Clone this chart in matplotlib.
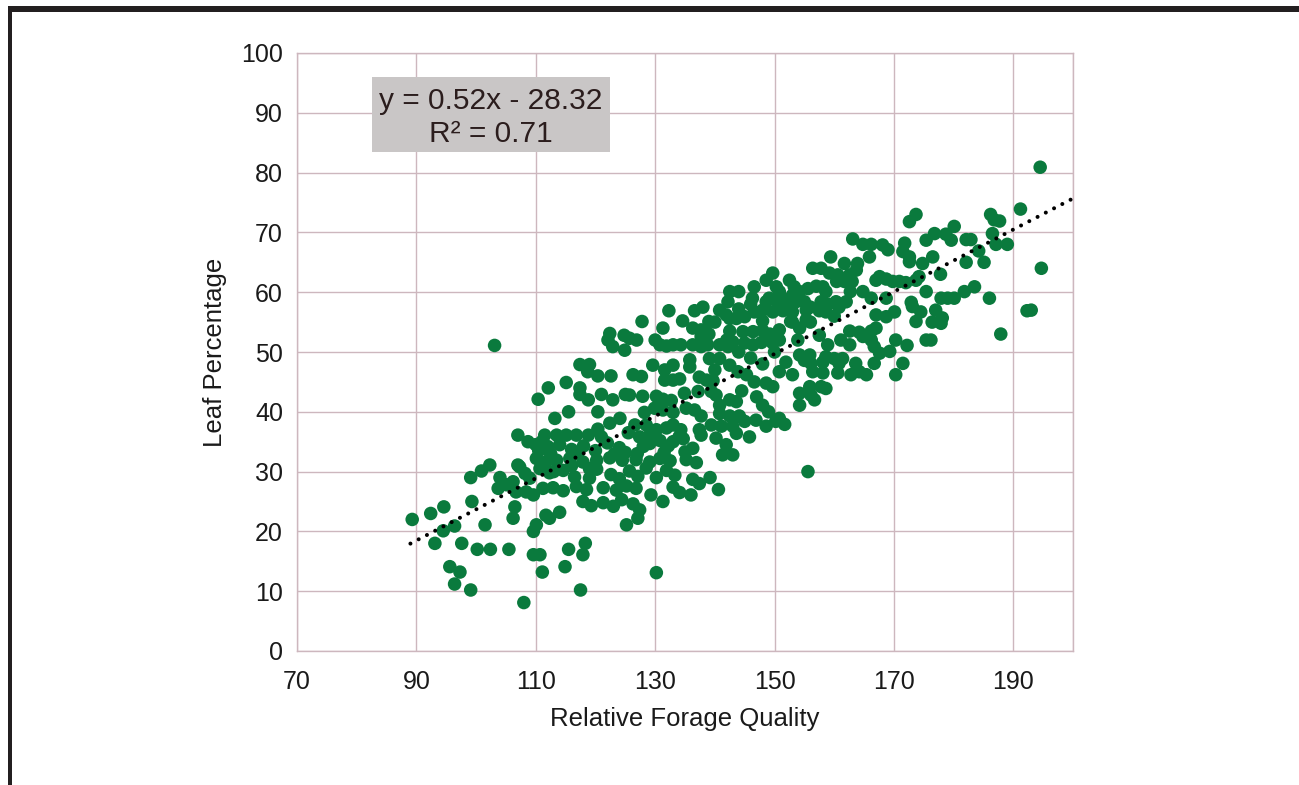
import matplotlib
matplotlib.use("Agg")
import matplotlib.pyplot as plt
from matplotlib.patches import Rectangle
import numpy as np

plt.rcParams['font.family'] = ['Liberation Sans', 'DejaVu Sans']

# (relative forage quality, leaf percentage)
leaf_points = [
    # sparse left side
    (89.3, 22.0), (92.4, 23.0), (94.6, 24.1), (94.5, 20.1), (96.4, 20.9), (93.1, 18.0),
    (97.6, 18.0), (95.6, 14.1), (97.3, 13.2), (96.4, 11.2), (99.1, 10.2), (100.2, 17.0),
    (102.4, 17.0), (105.5, 17.0), (101.5, 21.1), (99.3, 25.0), (106.2, 22.2), (106.5, 24.1),
    (99.1, 29.0), (100.9, 30.1), (102.3, 31.1), (104.0, 29.0), (107.0, 31.1), (110.1, 21.1),
    (109.6, 20.0), (109.6, 16.1), (110.7, 16.1), (111.1, 13.2), (108.0, 8.1), (111.7, 22.7),
    (103.7, 27.2), (105.1, 27.8), (106.2, 28.3), (107.3, 30.8), (108.2, 29.7), (109.0, 28.9),
    (110.1, 32.2), (110.7, 30.5), (111.8, 31.7), (106.7, 26.6), (108.4, 26.6), (109.6, 26.1),
    (111.2, 27.2), (103.1, 51.1),
    # lower middle
    (115.5, 17.0), (118.3, 18.0), (117.9, 16.1), (114.9, 14.1), (117.5, 10.2), (130.2, 13.1),
    (125.2, 21.1), (127.1, 22.2), (129.3, 26.1), (131.3, 25.0), (136.0, 26.1), (114.0, 23.2),
    (112.3, 22.2),
    (113.5, 31.9), (115.7, 32.2), (117.9, 31.6), (120.2, 31.9), (122.4, 32.3), (124.5, 31.9),
    (126.8, 32.0), (129.1, 31.6), (130.8, 32.2), (132.5, 31.8), (135.2, 32.0), (136.9, 31.5),
    (112.3, 29.8), (114.6, 30.2), (116.5, 29.1), (119.0, 28.9), (120.2, 30.4), (122.6, 29.5),
    (124.0, 28.8), (125.7, 30.1), (127.1, 29.2), (128.5, 30.6), (130.2, 29.0), (131.9, 30.2),
    (133.3, 29.4), (136.3, 28.7),
    (112.9, 27.3), (114.6, 26.8), (116.8, 27.5), (118.5, 27.0), (121.3, 27.3), (123.5, 26.9),
    (125.2, 27.6), (126.8, 27.2), (133.0, 27.4), (134.1, 26.5),
    (117.9, 25.0), (119.3, 24.3), (121.3, 24.8), (123.0, 24.2), (124.4, 25.3), (126.3, 24.6),
    (127.4, 23.6),
    (155.6, 30.0), (139.2, 29.0), (140.6, 27.0), (137.4, 28.0), (141.3, 32.8), (143.0, 32.8),
    # 105-125 core
    (117.4, 47.9), (119.0, 47.9), (118.7, 46.7), (120.4, 46.0), (122.6, 46.0), (112.1, 44.0),
    (115.1, 44.9), (117.4, 44.0), (117.4, 42.9), (118.8, 42.0), (121.0, 42.9), (122.9, 42.0),
    (125.0, 42.9), (110.4, 42.1), (115.5, 40.0), (113.2, 38.9), (120.4, 40.0), (107.0, 36.1),
    (108.7, 35.0), (111.5, 36.1), (113.5, 36.1), (115.1, 36.1), (116.8, 36.1), (118.8, 36.1),
    (120.4, 37.1), (122.4, 38.1), (124.1, 38.9),
    (110.5, 33.5), (114.0, 34.5), (116.0, 33.7), (118.0, 34.3), (120.0, 33.5), (122.0, 34.8),
    (124.0, 34.0), (125.5, 36.5),
    (110.0, 34.5), (111.0, 35.0), (112.5, 33.0), (113.0, 30.0), (116.0, 31.0), (117.0, 33.0),
    (119.0, 30.5), (121.0, 35.8), (123.2, 33.0), (125.0, 33.2), (127.0, 33.0), (128.0, 34.2),
    (129.0, 36.0), (131.5, 33.2), (132.2, 34.3), (134.0, 35.8), (135.0, 33.3), (112.0, 34.2),
    (122.4, 53.1), (124.8, 52.8), (122.1, 52.0), (122.9, 50.9), (124.9, 50.3),
    # 125-150 band
    (132.3, 56.9), (136.6, 56.9), (140.8, 57.0), (141.9, 56.2), (142.5, 55.6), (127.8, 55.1),
    (134.6, 55.2), (139.0, 55.1), (131.3, 54.0), (136.3, 54.0), (137.7, 53.7), (137.7, 52.6),
    (143.6, 55.6), (145.0, 55.9), (146.6, 56.7), (148.0, 57.0), (149.7, 56.7), (142.5, 53.5),
    (144.7, 53.4), (146.4, 53.4), (148.0, 53.6), (149.2, 53.0), (150.0, 52.7), (125.7, 52.3),
    (126.9, 52.0), (130.8, 51.2), (131.9, 51.0), (133.0, 51.2), (134.3, 51.2), (136.3, 51.2),
    (137.7, 50.9), (138.8, 51.2), (140.8, 51.2), (142.2, 50.9), (143.0, 51.7), (145.0, 51.5),
    (146.4, 51.2), (147.8, 51.6), (149.7, 51.5), (135.8, 48.7), (139.1, 48.9), (140.8, 48.9),
    (129.6, 47.8), (131.6, 47.0), (133.0, 47.8), (135.8, 47.5), (142.5, 47.8), (143.9, 46.7),
    (145.3, 46.2), (126.3, 46.2), (127.7, 45.9), (131.6, 45.3), (133.0, 45.3), (134.1, 45.5),
    (137.4, 45.8), (138.6, 45.3), (139.7, 45.2), (146.6, 45.0), (148.6, 44.8), (149.7, 44.2),
    (134.9, 43.1), (137.2, 43.4), (139.4, 43.4), (125.7, 42.8), (127.9, 42.6), (130.2, 42.6),
    (131.3, 42.1), (132.7, 41.9), (140.2, 42.8), (140.8, 41.1), (142.5, 42.0), (143.6, 41.7),
    (148.0, 41.1), (128.2, 39.9), (129.9, 40.6), (131.3, 40.3), (133.0, 39.9), (135.2, 40.6),
    (136.6, 40.3), (137.7, 39.3), (140.8, 39.7), (142.5, 39.3), (144.1, 39.3), (126.6, 37.8),
    (128.5, 37.8), (130.2, 37.0), (131.9, 37.3), (133.0, 37.8), (134.3, 37.0), (137.4, 37.0),
    (139.4, 37.8), (141.1, 37.6), (143.0, 37.6), (145.0, 38.4), (146.9, 38.6), (148.6, 37.6),
    (150.2, 38.4), (127.4, 35.8), (129.1, 34.7), (130.8, 35.2), (133.0, 35.0), (134.7, 35.5),
    (136.3, 33.9), (137.7, 36.1), (140.2, 35.6), (141.9, 34.5), (143.6, 36.4), (145.8, 35.8),
    (138.0, 57.5), (140.0, 55.0), (144.0, 57.2), (146.0, 58.0), (148.0, 55.2), (144.0, 50.0),
    (146.0, 49.0), (148.0, 48.0), (150.0, 50.0), (140.0, 47.0), (147.0, 42.5), (149.0, 40.0),
    (144.5, 43.5), (139.0, 53.0), (142.0, 52.0), (130.0, 52.0),
    # 150-175 band
    (151.4, 56.9), (153.0, 56.7), (155.3, 57.0), (157.5, 56.9), (158.6, 56.7), (160.8, 57.5),
    (152.7, 55.1), (154.2, 54.0), (155.3, 55.4), (150.8, 53.7), (150.8, 52.0), (162.6, 53.5),
    (164.2, 53.3), (166.2, 53.5), (167.0, 54.0), (167.0, 56.2), (168.7, 55.9), (170.1, 56.7),
    (173.1, 57.6), (174.5, 56.7), (173.7, 55.1), (157.5, 52.8), (153.9, 52.0), (161.1, 52.0),
    (162.6, 51.2), (164.8, 52.6), (166.2, 52.0), (170.3, 52.0), (172.2, 51.1), (175.4, 52.0),
    (158.9, 51.2), (154.2, 49.5), (155.9, 49.5), (158.6, 49.2), (160.0, 48.9), (161.4, 48.9),
    (166.7, 50.9), (167.6, 49.8), (169.3, 50.1), (151.9, 48.3), (155.0, 48.6), (156.1, 48.1),
    (158.1, 48.3), (160.8, 48.1), (163.6, 48.1), (166.7, 48.1), (171.5, 48.1), (150.8, 46.7),
    (153.0, 46.2), (156.4, 46.7), (158.1, 46.5), (160.6, 46.5), (162.8, 46.2), (164.2, 46.7),
    (165.4, 46.2), (170.3, 46.2), (155.9, 44.2), (157.8, 44.2), (158.6, 43.9), (154.2, 43.1),
    (156.1, 42.8), (156.7, 42.0), (154.2, 41.1), (150.8, 38.9), (151.7, 37.9),
    (151.0, 59.2), (153.0, 59.5), (156.0, 57.5), (157.0, 61.0), (159.0, 58.0), (160.0, 56.0),
    (153.0, 55.0), (156.0, 55.0),
    # upper band
    (163.1, 68.9), (164.8, 68.0), (166.2, 68.0), (159.4, 65.9), (161.7, 64.8), (163.9, 64.8),
    (165.9, 65.9), (156.4, 64.0), (157.8, 64.0), (159.2, 63.2), (160.6, 62.9), (162.6, 62.9),
    (163.7, 63.7), (160.4, 61.8), (161.7, 61.8), (163.0, 61.8), (149.7, 63.2), (148.6, 62.0),
    (146.6, 60.9), (152.5, 62.0), (153.3, 60.9), (150.3, 60.9), (150.8, 60.1), (154.2, 60.1),
    (155.6, 60.6), (158.1, 60.9), (158.6, 60.1), (142.5, 60.1), (144.0, 60.1), (146.3, 59.0),
    (149.1, 59.0), (162.7, 60.1), (164.8, 60.1), (166.2, 59.0), (167.0, 62.0),
    (142.2, 58.4), (148.6, 58.4), (150.5, 58.4), (152.2, 58.4), (153.6, 58.4), (155.0, 58.4),
    (157.8, 58.4), (160.3, 58.4), (162.0, 58.4),
    # right side
    (177.0, 57.0), (178.1, 55.7), (176.4, 55.0), (177.9, 54.8), (176.2, 52.0), (187.9, 53.0),
    (192.3, 56.9), (193.0, 57.0),
    (194.5, 80.9), (191.2, 73.9), (194.7, 64.0), (186.2, 73.0), (186.8, 72.1), (187.7, 71.9),
    (186.5, 69.8), (187.1, 68.0), (189.0, 68.0), (184.2, 66.9), (185.1, 65.0), (182.1, 65.0),
    (182.1, 68.8), (182.9, 68.8), (180.1, 71.0), (178.7, 69.7), (176.8, 69.8), (175.4, 68.7),
    (179.6, 68.7), (173.7, 73.0), (172.6, 71.8), (176.5, 65.9), (177.8, 63.0), (174.8, 64.8),
    (172.6, 65.9), (171.8, 68.2), (168.1, 67.9), (169.0, 67.1), (171.5, 66.8), (172.6, 65.1),
    (167.6, 62.6), (168.7, 62.2), (169.8, 61.8), (170.9, 61.8), (172.0, 61.6), (173.7, 62.0),
    (174.2, 62.6), (175.4, 60.1), (177.9, 59.0), (179.0, 59.0), (180.1, 59.0), (181.8, 60.1),
    (183.5, 60.9), (186.0, 59.0), (168.7, 59.0), (172.9, 58.3),
]

# trend line from the label
slope = 0.52
intercept = -28.32
fit_x = [89.0, 200.0]

x_ticks = [70, 90, 110, 130, 150, 170, 190]
y_ticks = [0, 10, 20, 30, 40, 50, 60, 70, 80, 90, 100]

green = '#0a7a3d'
grid_col = '#cdb7be'

rfq = np.array([p[0] for p in leaf_points])
leaf = np.array([p[1] for p in leaf_points])

fig = plt.figure(figsize=(12.99, 7.85), dpi=100)
ax = fig.add_axes([297 / 1299, 1 - 651 / 785, (1073 - 297) / 1299, (651 - 53) / 785])

ax.scatter(rfq, leaf, s=95, color=green, edgecolors='none', zorder=3)

fx = np.array(fit_x)
ax.plot(fx, slope * fx + intercept, color='black', linestyle=(0, (0.01, 2.3)), lw=2.9,
        dash_capstyle='round', solid_capstyle='round', zorder=4)

ax.set_xlim(70, 200)
ax.set_ylim(0, 100)
ax.set_xticks(x_ticks)
ax.set_yticks(y_ticks)
ax.xaxis.set_minor_locator(matplotlib.ticker.FixedLocator([200]))
ax.grid(True, which='both', color=grid_col, lw=1.0, zorder=0)
ax.set_axisbelow(True)
for s in ax.spines.values():
    s.set_color(grid_col)
    s.set_linewidth(1.0)
ax.tick_params(which='both', length=0, labelsize=18, colors='#1a1a1a')
ax.tick_params(axis='y', pad=10)
ax.tick_params(axis='x', pad=14)

ax.set_xlabel('Relative Forage Quality', fontsize=18.5, color='#1a1a1a', labelpad=9)
ax.set_ylabel('Leaf Percentage', fontsize=18.5, color='#1a1a1a', labelpad=10)

# equation box
ax.add_patch(Rectangle((82.5, 83.4), 39.9, 12.6, facecolor='#c9c6c6',
                       edgecolor='none', zorder=5))
ax.text(102.45, 92.0, 'y = 0.52x - 28.32', ha='center', va='center',
        fontsize=21.5, color='#2b1d1d', zorder=6)
ax.text(102.45, 86.5, 'R² = 0.71', ha='center', va='center',
        fontsize=21.5, color='#2b1d1d', zorder=6)

# page frame (top and left rule)
fig.add_artist(Rectangle((8 / 1299, 1 - 12 / 785), 1, 6 / 785,
                         transform=fig.transFigure, facecolor='#231f20', edgecolor='none'))
fig.add_artist(Rectangle((8 / 1299, 0), 4 / 1299, 1 - 6 / 785,
                         transform=fig.transFigure, facecolor='#231f20', edgecolor='none'))

fig.savefig('out.png', dpi=100, facecolor='white')
